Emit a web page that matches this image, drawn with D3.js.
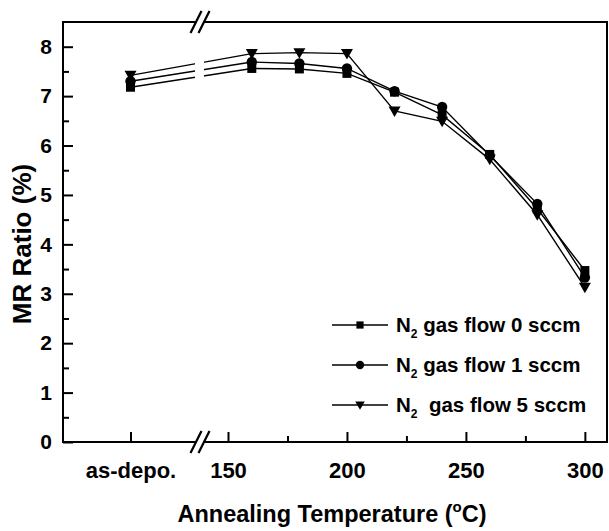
<!DOCTYPE html>
<html>
<head>
<meta charset="utf-8">
<script src="https://cdn.jsdelivr.net/npm/d3@7/dist/d3.min.js"></script>
<style>
  html, body { margin: 0; padding: 0; background: #fff; }
  svg { display: block; }
  text { font-family: "Liberation Sans", Arial, sans-serif; font-weight: bold; fill: #000; }
</style>
</head>
<body>
<svg id="chart" width="609" height="531"></svg>
<script>
// ---------------- data ----------------
const categories = ["as-depo.", 160, 180, 200, 220, 240, 260, 280, 300];
const flow0 = [7.18, 7.56, 7.55, 7.46, 7.08, 6.62, 5.82, 4.72, 3.47];
const flow1 = [7.30, 7.69, 7.66, 7.56, 7.10, 6.78, 5.80, 4.82, 3.33];
const flow5 = [7.42, 7.86, 7.88, 7.86, 6.70, 6.49, 5.72, 4.60, 3.13];
const seriesNames = ["0 sccm", "1 sccm", "5 sccm"];
const yTicks = [0, 1, 2, 3, 4, 5, 6, 7, 8];
const yMinorTicks = [0.5, 1.5, 2.5, 3.5, 4.5, 5.5, 6.5, 7.5];
const xTicks = [150, 200, 250, 300];
const xMinorTicks = [175, 225, 275];

// ---------------- layout ----------------
const svg = d3.select("#chart");
const L = 63, R = 607, T = 22, B = 442;
const breakX = 200;

const y = d3.scaleLinear().domain([0, 8.5]).range([B, T]);
const xNum = d3.scaleLinear().domain([150, 309.3]).range([228, R]);
const xCat = d3.scalePoint().domain(["", "as-depo.", " "]).range([L, 198]);
const xPos = d => (typeof d === "number") ? xNum(d) : xCat(d);

// ---------------- axes ----------------
const yAxis = d3.axisLeft(y).tickValues(yTicks).tickSizeInner(-10).tickSizeOuter(0).tickPadding(11).tickFormat(d3.format("d"));
const gy = svg.append("g").attr("transform", `translate(${L},0)`).call(yAxis);
const yAxisMinor = d3.axisLeft(y).tickValues(yMinorTicks).tickSizeInner(-6).tickSizeOuter(0).tickFormat("");
const gym = svg.append("g").attr("transform", `translate(${L},0)`).call(yAxisMinor);

const xAxis = d3.axisBottom(xNum).tickValues(xTicks).tickSizeInner(-10).tickSizeOuter(0).tickPadding(20).tickFormat(d3.format("d"));
const gx = svg.append("g").attr("transform", `translate(0,${B})`).call(xAxis);
const xAxisMinor = d3.axisBottom(xNum).tickValues(xMinorTicks).tickSizeInner(-6).tickSizeOuter(0).tickFormat("");
const gxm = svg.append("g").attr("transform", `translate(0,${B})`).call(xAxisMinor);
const xAxisCat = d3.axisBottom(xCat).tickValues(["as-depo."]).tickSizeInner(-10).tickSizeOuter(0).tickPadding(20);
const gxc = svg.append("g").attr("transform", `translate(0,${B})`).call(xAxisCat);

[gy, gym, gx, gxm, gxc].forEach(g => {
  g.select(".domain").remove();
  g.selectAll(".tick line").attr("stroke", "#000").attr("stroke-width", 2);
  g.selectAll(".tick text").style("font-size", "22px").style("font-family", "Liberation Sans, Arial, sans-serif").style("font-weight", "bold").attr("fill", "#000");
});
gy.selectAll(".tick text").style("font-size", "21px");

// frame with break
const frame = svg.append("g").attr("stroke", "#000").attr("stroke-width", 2).attr("fill", "none");
const gapL = breakX - 4, gapR = breakX + 4;
frame.append("line").attr("x1", L).attr("x2", L).attr("y1", T - 1).attr("y2", B + 1);
frame.append("line").attr("x1", R).attr("x2", R).attr("y1", T - 1).attr("y2", B + 1);
[T, B].forEach(yy => {
  frame.append("line").attr("x1", L - 1).attr("x2", gapL).attr("y1", yy).attr("y2", yy);
  frame.append("line").attr("x1", gapR).attr("x2", R + 1).attr("y1", yy).attr("y2", yy);
  [gapL, gapR].forEach(cx => {
    frame.append("line").attr("x1", cx - 5.5).attr("y1", yy + 11).attr("x2", cx + 5.5).attr("y2", yy - 11).attr("stroke-width", 2.2);
  });
});

// ---------------- data marks ----------------
const clip = svg.append("defs").append("clipPath").attr("id", "gapclip");
clip.append("rect").attr("x", 0).attr("y", 0).attr("width", breakX - 5).attr("height", 531);
clip.append("rect").attr("x", breakX + 4).attr("y", 0).attr("width", 609).attr("height", 531);

const allSeries = [flow0, flow1, flow5];
const markers = ["square", "circle", "triangle"];
const line = d3.line().x((d, i) => xPos(categories[i])).y(d => y(d));

function drawMarker(g, type, cx, cy, s) {
  if (type === "square") {
    g.append("rect").attr("x", cx - s * 0.45).attr("y", cy - s * 0.45).attr("width", s * 0.9).attr("height", s * 0.9).attr("fill", "#000");
  } else if (type === "circle") {
    g.append("circle").attr("cx", cx).attr("cy", cy).attr("r", s * 0.52).attr("fill", "#000");
  } else {
    const h = s * 1.0;
    g.append("path").attr("d", `M${cx - s * 0.6},${cy - h * 0.45} L${cx + s * 0.6},${cy - h * 0.45} L${cx},${cy + h * 0.6} Z`).attr("fill", "#000");
  }
}

const linesG = svg.append("g").attr("clip-path", "url(#gapclip)");
allSeries.forEach(vals => {
  linesG.append("path").datum(vals).attr("d", line).attr("fill", "none").attr("stroke", "#000").attr("stroke-width", 1.4);
});
const markG = svg.append("g");
allSeries.forEach((vals, si) => {
  vals.forEach((v, i) => drawMarker(markG, markers[si], xPos(categories[i]), y(v), 10));
});

// ---------------- legend ----------------
const leg = svg.append("g");
const legY = [325, 365, 405];
seriesNames.forEach((name, i) => {
  const row = leg.append("g").attr("transform", `translate(0,${legY[i]})`);
  row.append("line").attr("x1", 332).attr("x2", 388).attr("y1", 0).attr("y2", 0).attr("stroke", "#000").attr("stroke-width", 1.4);
  drawMarker(row, markers[i], 360, 0, 8);
  const t = row.append("text").attr("x", 396).attr("y", 7).style("font-size", "20.5px");
  t.append("tspan").text("N");
  t.append("tspan").attr("dy", 6).style("font-size", "12px").text("2");
  t.append("tspan").attr("dy", -6).text((i === 2 ? "  " : " ") + "gas flow " + name).attr("xml:space", "preserve").style("white-space", "pre");
});

// ---------------- titles ----------------
const xt = svg.append("text").attr("x", 332).attr("y", 522).attr("text-anchor", "middle").style("font-size", "23.5px");
xt.append("tspan").text("Annealing Temperature (");
xt.append("tspan").attr("dy", -10).style("font-size", "15px").text("o");
xt.append("tspan").attr("dy", 10).text("C)");

svg.append("text").attr("transform", `translate(31,244) rotate(-90)`).attr("text-anchor", "middle").style("font-size", "26px").text("MR Ratio (%)");
</script>
</body>
</html>
